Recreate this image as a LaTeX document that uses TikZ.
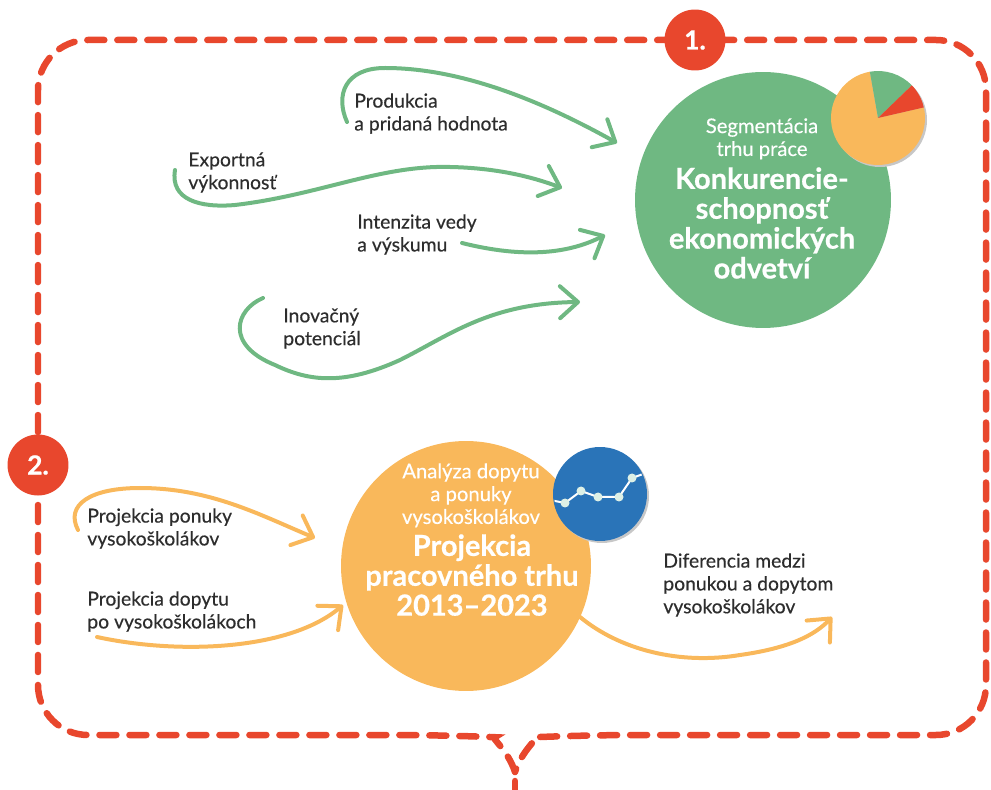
\documentclass[tikz,border=0pt]{standalone}
\usepackage{fontspec}
\setmainfont{Lato}[UprightFeatures={FakeBold=0.35}, BoldFeatures={FakeBold=0.6}]
\usetikzlibrary{arrows.meta}
\definecolor{rimred}{HTML}{E8472D}
\definecolor{leaf}{HTML}{6FB882}
\definecolor{sun}{HTML}{F9B85B}
\definecolor{sea}{HTML}{2A74B8}
\definecolor{ink}{HTML}{2D2D2D}
\definecolor{mint}{HTML}{DDF0E6}
\tikzset{
  rim/.style={rimred, line width=0.13cm, line cap=round, dash pattern=on 0.34cm off 0.26cm, rounded corners=1cm},
  badge/.style={circle, fill=rimred, minimum size=1.22cm, inner sep=0, text=white, font=\fontsize{15}{15}\selectfont\bfseries},
  lbl/.style={anchor=north west, inner sep=0, align=left, text=ink, font=\fontsize{11}{13}\selectfont},
  flow/.style={line width=0.08cm, line cap=round, -{Straight Barb[length=0.36cm, width=0.64cm, round]}},
  sub/.style={anchor=north, inner sep=0, align=center, text=white, font=\fontsize{11.5}{13}\selectfont},
  head/.style={anchor=north, inner sep=0, align=center, text=white, font=\fontsize{16.5}{17}\selectfont\bfseries},
  disc/.style={circle, inner sep=0, fill=#1},
}
\begin{document}
\begin{tikzpicture}[x=0.02cm, y=-0.02cm]
\useasboundingbox (0,0) rectangle (991,790);
% dashed frame with the brace at the bottom
\draw[rim] (515,772) .. controls (508,750) and (490,737) .. (445,735) -- (38,735) -- (38,40)
  -- (986,40) -- (986,735) -- (585,735) .. controls (540,737) and (522,750) .. (515,772);
\draw[rim] (515,781) -- (515,790);
\node[badge] (one) at (695,40) {1.};
\node[badge] (two) at (38,465) {2.};

% upper circle
\node[disc=leaf, minimum size=5.12cm] (segm) at (763,200) {};
\coordinate (pie) at (878,118);
\fill[black!22] (pie) ++(2,2) circle[radius=47];
\fill[sun] (pie) -- +(-100:47) arc[start angle=-100, end angle=-373, radius=47] -- cycle;
\fill[leaf] (pie) -- +(-44:47) arc[start angle=-44, end angle=-100, radius=47] -- cycle;
\fill[rimred] (pie) -- +(-13:47) arc[start angle=-13, end angle=-44, radius=47] -- cycle;
\node[sub] (segm-sub) at (762,118) {Segmentácia\\trhu práce};
\node[head] (segm-head) at (762,167) {Konkurencie-\\schopnosť\\ekonomických\\odvetví};

% lower circle
\node[disc=sun, minimum size=5cm] (proj) at (466,566) {};
\fill[black!22] (602,496) circle[radius=47];
\node[disc=sea, minimum size=1.88cm] (chart) at (600,494) {};
\begin{scope}
  \clip (chart.center) circle[radius=46];
  \draw[white, line width=0.04cm] (545,499) -- (565,503) -- (581,491) -- (598,497) -- (619,497) -- (632,478) -- (660,468);
\end{scope}
\foreach \p in {(565,503),(581,491),(598,497),(619,497),(632,478)}
  \fill[mint] \p circle[radius=4.5];
\node[sub] (proj-sub) at (471,463) {Analýza dopytu\\a ponuky\\vysokoškolákov};
\node[head] (proj-head) at (472,534) {Projekcia\\pracovného trhu\\2013–2023};

% labels
\node[lbl] (prod) at (354,93) {Produkcia\\a pridaná hodnota};
\node[lbl] (export) at (188,152) {Exportná\\výkonnosť};
\node[lbl] (veda) at (357,214) {Intenzita vedy\\a výskumu};
\node[lbl] (inov) at (283,308) {Inovačný\\potenciál};
\node[lbl] (ponuka) at (87,508) {Projekcia ponuky\\vysokoškolákov};
\node[lbl] (dopyt) at (87,591) {Projekcia dopytu\\po vysokoškolákoch};
\node[lbl] (rozdiel) at (663,553) {Diferencia medzi\\ponukou a dopytom\\vysokoškolákov};

% arrow ends
\coordinate (prod-a) at (347,122);    \coordinate (prod-b) at (617,143);
\coordinate (export-a) at (175,170);  \coordinate (export-b) at (562,188);
\coordinate (veda-a) at (462,243);    \coordinate (veda-b) at (605,235);
\coordinate (inov-a) at (263,298);    \coordinate (inov-b) at (580,302);
\coordinate (ponuka-a) at (78,530);   \coordinate (ponuka-b) at (315,538);
\coordinate (dopyt-a) at (97,637);    \coordinate (dopyt-b) at (343,605);
\coordinate (rozdiel-a) at (580,617); \coordinate (rozdiel-b) at (832,617);

\draw[flow, leaf] (prod-a) .. controls (335,95) and (345,68) .. (385,68)
  .. controls (460,68) and (540,100) .. (prod-b);
\draw[flow, leaf] (export-a) .. controls (170,200) and (200,208) .. (235,205)
  .. controls (320,195) and (380,165) .. (450,167) .. controls (500,168) and (535,178) .. (export-b);
\draw[flow, leaf] (veda-a) .. controls (510,255) and (560,258) .. (veda-b);
\draw[flow, leaf] (inov-a) .. controls (235,310) and (225,345) .. (275,365)
  .. controls (310,382) and (345,385) .. (400,360) .. controls (450,335) and (490,303) .. (inov-b);
\draw[flow, sun] (ponuka-a) .. controls (65,505) and (90,488) .. (140,488)
  .. controls (210,488) and (260,515) .. (ponuka-b);
\draw[flow, sun] (dopyt-a) .. controls (180,655) and (290,650) .. (dopyt-b);
\draw[flow, sun] (rozdiel-a) .. controls (620,650) and (680,665) .. (740,655)
  .. controls (790,648) and (815,635) .. (rozdiel-b);
\end{tikzpicture}
\end{document}
